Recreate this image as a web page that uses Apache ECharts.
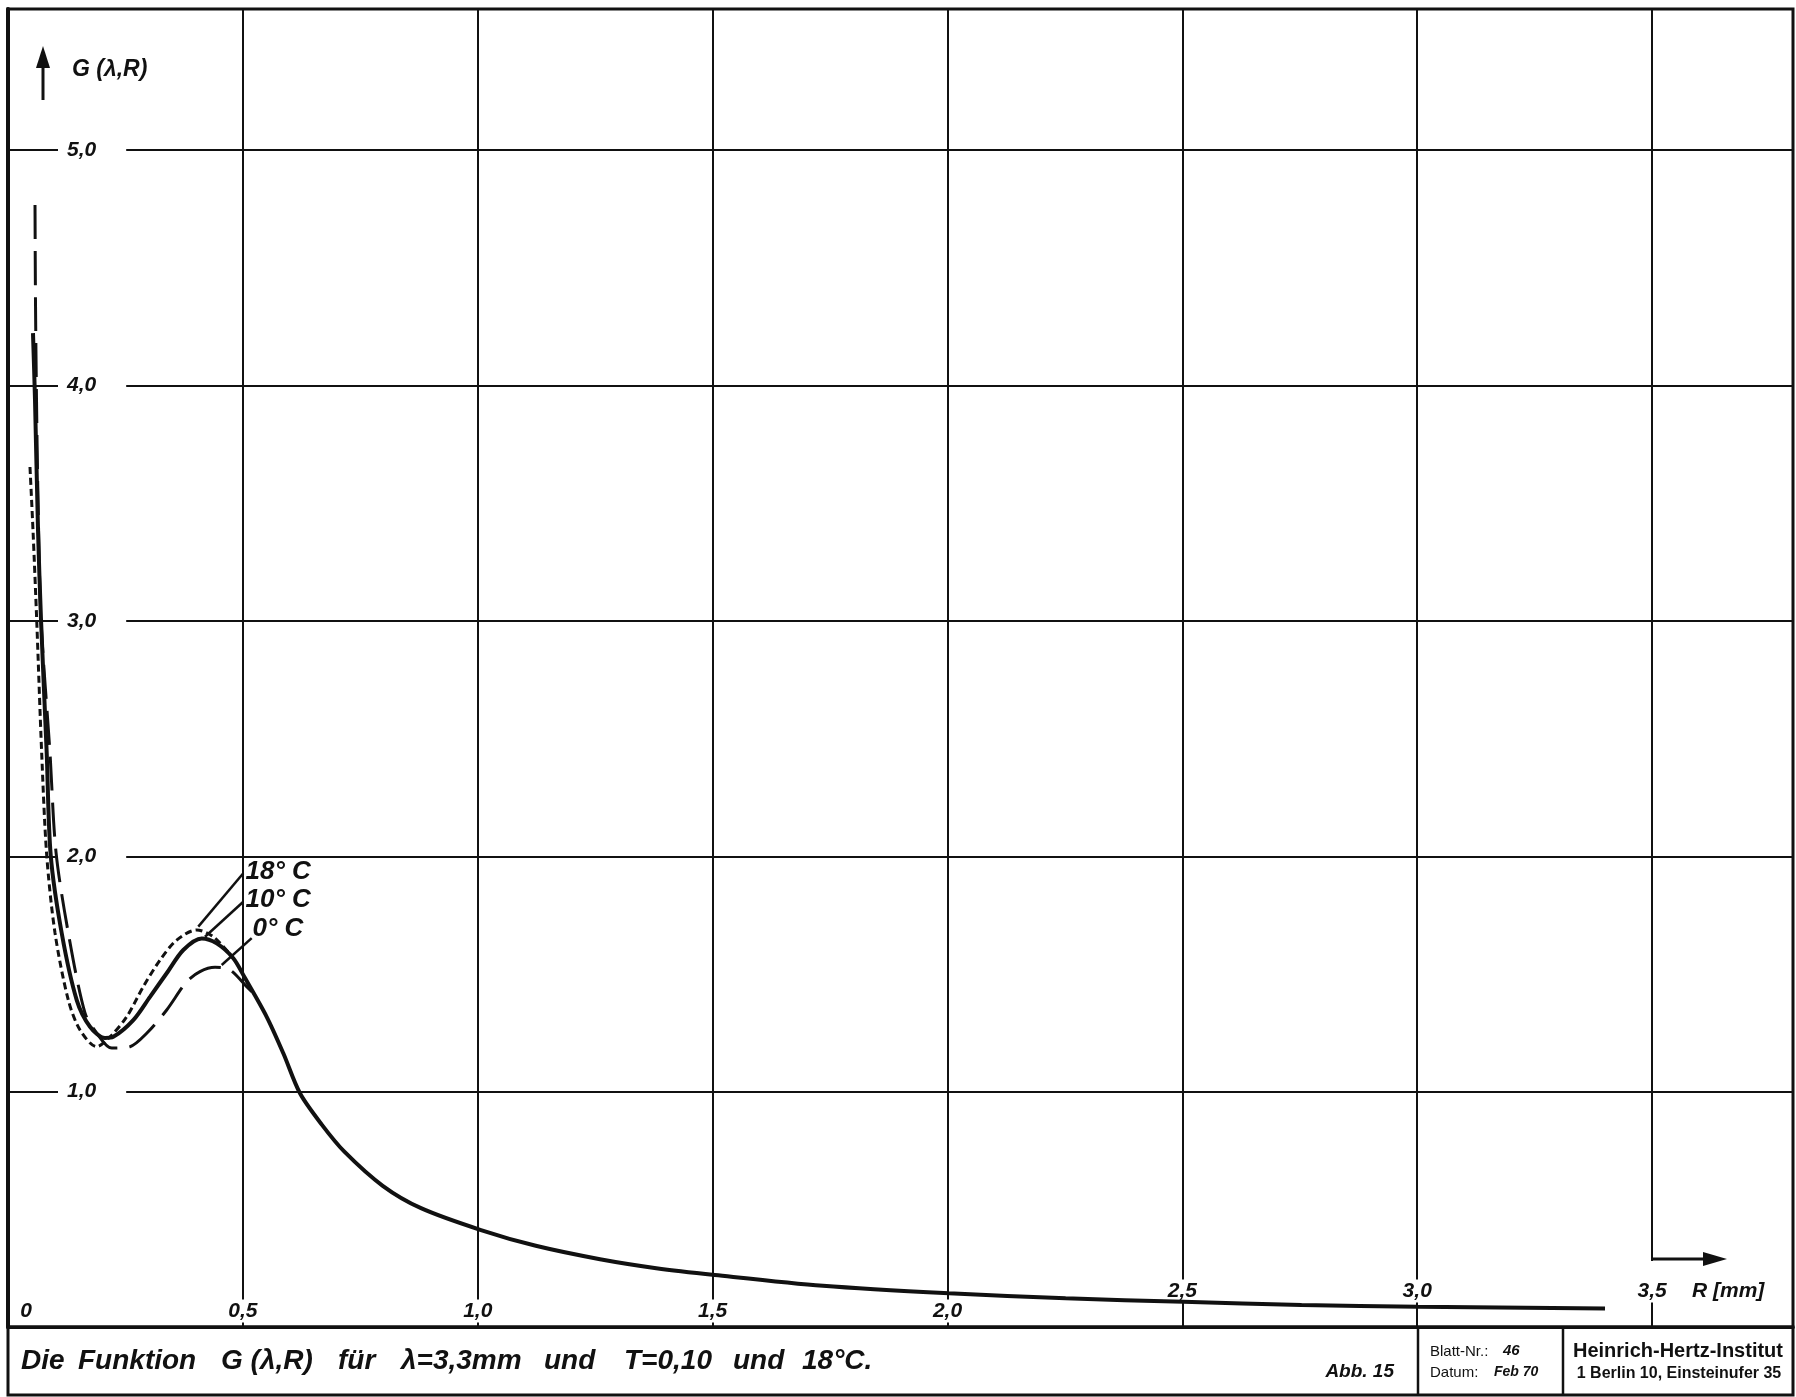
<!DOCTYPE html>
<html>
<head>
<meta charset="utf-8">
<title>Die Funktion G (λ,R)</title>
<script src="https://cdn.jsdelivr.net/npm/echarts@6.0.0/dist/echarts.min.js"></script>
<style>
  html, body { margin: 0; padding: 0; background: #fff; }
  #chart { width: 1796px; height: 1397px; }
</style>
</head>
<body>
<div id="chart"></div>
<script>
// values, R in mm
const seriesNames = ['0° C', '10° C', '18° C']

const r0 = [0.0575, 0.0585, 0.0607, 0.0639, 0.0703, 0.0894, 0.1022, 0.1284, 0.1639, 0.1888, 0.2208,
  0.2597, 0.2953, 0.3378, 0.3804, 0.4087, 0.4407, 0.4726, 0.5082, 0.519]
const g0 = [4.767, 4.364, 3.939, 3.514, 3.004, 2.439, 2.018, 1.674, 1.334, 1.249, 1.185,
  1.191, 1.248, 1.347, 1.467, 1.510, 1.528, 1.517, 1.446, 1.425]

const r10 = [0.0532, 0.0575, 0.0639, 0.0703, 0.0824, 0.0909, 0.1143, 0.1463, 0.1746, 0.2065, 0.2242,
  0.2667, 0.3023, 0.3378, 0.3732, 0.4124, 0.4443, 0.4796, 0.5030, 0.5507, 0.5861, 0.6216,
  0.668, 0.7161, 0.7977, 0.8792, 1.0069, 1.1236, 1.2603, 1.38, 1.5047, 1.7350, 2.0030, 2.2515,
  2.5024, 2.7537, 3.0017, 3.3998]
const g10 = [4.223, 3.939, 3.386, 3.004, 2.439, 2.005, 1.674, 1.389, 1.276, 1.228, 1.233,
  1.304, 1.403, 1.503, 1.602, 1.651, 1.630, 1.567, 1.488, 1.318, 1.163, 0.993,
  0.860, 0.745, 0.600, 0.505, 0.412, 0.345, 0.288, 0.250, 0.221, 0.175, 0.143, 0.122,
  0.107, 0.093, 0.086, 0.079]

const r18 = [0.0468, 0.0532, 0.0611, 0.0717, 0.0824, 0.1001, 0.1284, 0.1533, 0.1888, 0.2172, 0.2527,
  0.2880, 0.3236, 0.3591, 0.4017, 0.4370, 0.4796]
const g18 = [3.654, 3.386, 3.004, 2.439, 2.005, 1.674, 1.389, 1.262, 1.191, 1.233, 1.318,
  1.446, 1.559, 1.644, 1.687, 1.658, 1.567]

const xTickValues = [0, 0.5, 1, 1.5, 2, 2.5, 3, 3.5]
const xTickLabels = ['0', '0,5', '1,0', '1,5', '2,0', '2,5', '3,0', '3,5']
const yTickValues = [1, 2, 3, 4, 5]
const yTickLabels = ['1,0', '2,0', '3,0', '4,0', '5,0']

const captionWords = ['Die', 'Funktion', 'G (λ,R)', 'für', 'λ=3,3mm', 'und', 'T=0,10', 'und', '18°C.']

const ink = '#111'
const sans = "'Liberation Sans', 'DejaVu Sans', sans-serif"

const zip = (xs, ys) => xs.map((x, i) => [x, ys[i]])

const chart = echarts.init(document.getElementById('chart'))

// labels under the tail sit higher, 3,5 also cuts the grid line for the arrow
const xFmt = v => {
  const i = xTickValues.indexOf(v)
  if (i < 0) return ''
  const t = xTickLabels[i]
  if (v === 0) return '{z|' + t + '}'
  if (v === 3.5) return '{gap| }\n{hi|' + t + '}\n{sp| }'
  if (v >= 2.5) return '{hi|' + t + '}\n{sp| }'
  return '{lo|' + t + '}'
}
const yFmt = v => {
  const i = yTickValues.indexOf(v)
  return i < 0 ? '' : '{b|' + yTickLabels[i] + '}'
}

const scaleX = { type: 'value', min: 0, max: 3.8, interval: 0.5, position: 'bottom' }
const scaleY = { type: 'value', min: 0, max: 5.6, interval: 1, position: 'left' }

const tempLabel = (text, coord) => ({
  symbol: 'rect',
  symbolSize: 1,
  itemStyle: { color: 'rgba(0,0,0,0)' },
  label: {
    show: true, position: 'right', distance: 0, formatter: text,
    color: ink, fontSize: 26, fontStyle: 'italic', fontWeight: 'bold', fontFamily: sans
  },
  data: [{ coord }]
})
const leader = (a, b) => ({
  silent: true,
  symbol: ['none', 'none'],
  label: { show: false },
  lineStyle: { color: ink, width: 2.5, type: 'solid' },
  data: [[{ coord: a }, { coord: b }]]
})

const txt = (x, y, text, font, align) => ({
  type: 'text', z: 10, x, y,
  style: {
    text, fill: ink, font,
    textAlign: align || 'left', align: align || 'left',
    textVerticalAlign: 'middle', verticalAlign: 'middle'
  }
})

// caption is spaced out like the stencil lettering of the original
const captionX = [21, 78, 221, 338, 401, 544, 624, 733, 802]
const caption = captionWords.map((w, i) => txt(captionX[i], 1361, w, 'italic bold 28px ' + sans))

const option = {
  animation: false,
  backgroundColor: '#fff',
  textStyle: { fontFamily: sans },
  grid: {
    left: 8, right: 3, top: 9, bottom: 70,
    show: true, borderColor: ink, borderWidth: 3,
    outerBoundsMode: 'none'
  },
  xAxis: [
    {
      ...scaleX,
      axisLine: { show: true, lineStyle: { color: ink, width: 3 } },
      axisTick: { show: false },
      axisLabel: { show: false },
      splitLine: { show: true, lineStyle: { color: ink, width: 2 } }
    },
    {
      ...scaleX,
      z: 1,
      axisLine: { show: false },
      axisTick: { show: false },
      splitLine: { show: false },
      axisLabel: {
        show: true, inside: true, margin: 6, formatter: xFmt,
        color: ink, fontSize: 21, fontStyle: 'italic', fontWeight: 'bold', fontFamily: sans,
        rich: {
          lo: { backgroundColor: '#fff', padding: [1, 3, 1, 3], lineHeight: 20 },
          hi: { backgroundColor: '#fff', padding: [1, 3, 1, 3], lineHeight: 20 },
          gap: { backgroundColor: '#fff', width: 14, height: 20, lineHeight: 20 },
          sp: { height: 20, lineHeight: 20 },
          z: { padding: [1, 0, 1, 36], lineHeight: 20 }
        }
      }
    }
  ],
  yAxis: [
    {
      ...scaleY,
      axisLine: { show: true, lineStyle: { color: ink, width: 4 } },
      axisTick: { show: false },
      axisLabel: { show: false },
      splitLine: { show: true, lineStyle: { color: ink, width: 2 } }
    },
    {
      ...scaleY,
      z: 1,
      axisLine: { show: false },
      axisTick: { show: false },
      splitLine: { show: false },
      axisLabel: {
        show: true, inside: true, margin: 50, formatter: yFmt,
        color: ink, fontSize: 21, fontStyle: 'italic', fontWeight: 'bold', fontFamily: sans,
        rich: { b: { backgroundColor: '#fff', padding: [3, 30, 3, 9] } }
      }
    }
  ],
  series: [
    {
      name: seriesNames[0], type: 'line', data: zip(r0, g0),
      smooth: 0.3, showSymbol: false,
      lineStyle: { color: ink, width: 3, type: [34, 12] },
      markLine: leader([0.4549, 1.538], [0.5188, 1.652]),
      markPoint: tempLabel(seriesNames[0], [0.5194, 1.691])
    },
    {
      name: seriesNames[1], type: 'line', data: zip(r10, g10),
      smooth: 0.3, showSymbol: false,
      lineStyle: { color: ink, width: 4 },
      markLine: leader([0.4194, 1.658], [0.5009, 1.807]),
      markPoint: tempLabel(seriesNames[1], [0.5045, 1.814])
    },
    {
      name: seriesNames[2], type: 'line', data: zip(r18, g18),
      smooth: 0.3, showSymbol: false,
      lineStyle: { color: ink, width: 3, type: [7, 4] },
      markLine: leader([0.4051, 1.701], [0.5009, 1.928]),
      markPoint: tempLabel(seriesNames[2], [0.5045, 1.933])
    }
  ],
  graphic: {
    elements: [
      // G axis arrow and name
      { type: 'line', z: 10, shape: { x1: 43, y1: 100, x2: 43, y2: 62 }, style: { stroke: ink, lineWidth: 3 } },
      { type: 'polygon', z: 10, shape: { points: [[36, 68], [50, 68], [43, 46]] }, style: { fill: ink } },
      txt(72, 70, 'G (λ,R)', 'italic bold 23px ' + sans),
      // R axis arrow and name
      { type: 'line', z: 10, shape: { x1: 1652, y1: 1259, x2: 1708, y2: 1259 }, style: { stroke: ink, lineWidth: 3 } },
      { type: 'polygon', z: 10, shape: { points: [[1703, 1252], [1703, 1266], [1727, 1259]] }, style: { fill: ink } },
      txt(1692, 1291, 'R [mm]', 'italic bold 21px ' + sans),
      // title block
      { type: 'rect', z: 10, shape: { x: 8, y: 1327, width: 1785, height: 68 }, style: { fill: null, stroke: ink, lineWidth: 3 } },
      { type: 'line', z: 10, shape: { x1: 1418, y1: 1327, x2: 1418, y2: 1395 }, style: { stroke: ink, lineWidth: 2.5 } },
      { type: 'line', z: 10, shape: { x1: 1563, y1: 1327, x2: 1563, y2: 1395 }, style: { stroke: ink, lineWidth: 2.5 } },
      ...caption,
      txt(1394, 1372, 'Abb. 15', 'italic bold 19px ' + sans, 'right'),
      txt(1430, 1352, 'Blatt-Nr.:', '15px ' + sans),
      txt(1503, 1351, '46', 'italic bold 15px ' + sans),
      txt(1430, 1373, 'Datum:', '15px ' + sans),
      txt(1494, 1372, 'Feb 70', 'italic bold 14px ' + sans),
      txt(1678, 1351, 'Heinrich-Hertz-Institut', 'bold 20px ' + sans, 'center'),
      txt(1679, 1374, '1 Berlin 10, Einsteinufer 35', 'bold 16px ' + sans, 'center')
    ]
  }
}

chart.setOption(option)
window.addEventListener('resize', () => chart.resize())
</script>
</body>
</html>
